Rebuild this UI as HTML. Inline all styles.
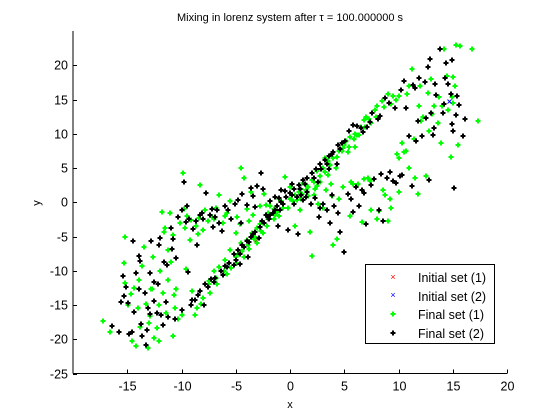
<!DOCTYPE html>
<html><head><meta charset="utf-8"><style>
body{margin:0;background:#fff}
svg{display:block;font-family:"Liberation Sans",sans-serif}
</style></head><body>
<svg id="c" width="560" height="420" viewBox="0 0 560 420">
<rect width="560" height="420" fill="#fff"/>
<text x="290" y="21" font-size="11" text-anchor="middle">Mixing in lorenz system after τ = 100.000000 s</text>
<g id="axes"></g>
<g id="marks"></g>
<text x="290" y="408" font-size="11" text-anchor="middle">x</text>
<text x="0" y="0" font-size="11" text-anchor="middle" transform="translate(40,203) rotate(-90)">y</text>
<g>
<rect x="365.5" y="264.5" width="129" height="79" fill="#fff" stroke="#000"/>
<text x="418" y="282" font-size="12.5">Initial set (1)</text>
<text x="418" y="301" font-size="12.5">Initial set (2)</text>
<text x="418" y="319" font-size="12.5">Final set (1)</text>
<text x="418" y="338" font-size="12.5">Final set (2)</text>
<text x="393" y="280" font-size="9" fill="#f00" text-anchor="middle">×</text>
<text x="393" y="298" font-size="9" fill="#00f" text-anchor="middle">×</text>
<path d="M390.5,314h5M393,311.5v5" stroke="#0f0" stroke-width="2"/>
<path d="M390.5,333h5M393,330.5v5" stroke="#000" stroke-width="2"/>
</g>
</svg>
<script>
const xTicks=[-15,-10,-5,0,5,10,15,20];
const yTicks=[-25,-20,-15,-10,-5,0,5,10,15,20];
const final1=[[-17.2,-17.4],[-16.6,-19],[-15.3,-8.8],[-15.2,-5.1],[-14.9,-15],[-14.6,-20.2],[-14.2,-21],[-14.4,-12.5],[-14,-15.5],[-13.8,-18.2],[-13.5,-6.5],[-13.6,-9.3],[-13.1,-21.3],[-13,-17.6],[-12.9,-16.6],[-12.7,-12.6],[-12.5,-19.8],[-12.6,-8],[-12.1,-15],[-12.1,-20.2],[-12,-10],[-11.7,-13.3],[-11.5,-3.8],[-11.6,-4.3],[-11.4,-16.2],[-11.2,-7],[-11.1,-1.5],[-11,-8.7],[-10.8,-4.8],[-10.6,-15.5],[-10.8,-19.5],[-10.5,-12.6],[-10.3,-17],[-10,-16.5],[-10.1,-3],[-9.9,4.3],[-9.8,-1],[-9.5,-2],[-9.2,-5.5],[-9,-13],[-8.8,-16.5],[-8.5,-4.6],[-8.4,-2.3],[-8.3,2.5],[-8,-4],[-7.8,-1.2],[-7.5,-11.5],[-7,-2.5],[-6.8,-0.8],[-6.5,1],[-6,-2],[-5.5,0.2],[-5,-4.5],[-4.5,5],[-4.2,3.5],[-4,-1],[-3.6,1.5],[-3,-6],[-2.5,-3],[-2,-1.5],[-1.5,-2.5],[-1,-2],[-0.5,3.7],[0,2.2],[0.5,-3.5],[1,0.5],[1.5,1.8],[1.8,-4.3],[2,-7.8],[2.3,2],[2.8,3],[3,-0.8],[3.5,4],[4,-6.2],[4.3,-5.3],[4.5,0.5],[4.8,7.5],[5.2,9],[5.5,-2],[5.8,2.6],[6,8],[6.3,2.7],[6.8,12],[7.2,3.6],[7.5,-1.2],[7.8,13.5],[8,-2.5],[8.5,14.8],[8.8,1],[9,-2.8],[9.2,0.5],[9.5,15.5],[10,6.5],[10,1.5],[10.3,8.7],[10.7,7.5],[11,5],[11.2,19.5],[11.5,3.5],[11.8,1.2],[12,17],[12.3,12.5],[12.5,3.8],[12.7,16],[13,18],[13.3,14],[13.6,11.5],[13.9,8.7],[14.2,22.3],[14.5,18.5],[14.8,6.6],[15,14.5],[15.3,22.9],[15.5,8.3],[15.7,22.8],[16.8,22.4],[17.3,11.8],
[-8,-14],[-7.5,-12],[-7,-10],[-6.5,-9.5],[-6,-8.5],[-5.5,-7],[-5,-8],[-4.5,-6],[-4,-5.5],[-3.5,-4.5],[-3,-3.8],[-2.5,-4.5],[-2,-2.5],[-1.5,-1],[-1,0.5],[0,0.5],[0.5,1],[1,2],[1.5,2.5],[2,3.2],[2.5,4.5],[3,5],[3.5,6],[4,6.5],[4.5,7.5],[5,8.3],[5.5,9.5],[6,10],[6.5,11],[7,12.5],[7.5,11.5],[8,14],[9,15.8],[10,15.5],[11,17],
[-4.8,-7.5],[-4.2,-8],[-3.8,-6.8],[-3.2,-5],[-2.8,-3.2],[-1.8,-0.5],[-0.8,0.2],[0.8,1.5],[1.2,2.8],[2.2,1],[3.2,6.5],[4.2,5],[5.3,7.3],[6.2,9.8],[-6.8,-11],[-5.8,-10.5],[-7.2,-2.2],[-9.6,-9.8],[-12.8,-12.7],[-13.9,-11.4],[-11.8,-1.4],[-3.8,-2.7],[-2.2,-0.4],[2.6,-0.3],[3.8,2.7],[6.6,-2.9],[8.2,-1.3],[9.3,-0.9],
[-15.2,-11.8],[-14.7,-13.4],[-13.3,-14.8],[-12.3,-18.4],[-11.2,-11.3],[-10.7,-13.5],[-9.7,-3.8],[-9.1,-2.6],[-8.7,-3.4],[-7.6,-2.8],[-6.2,-3.1],[-5.8,-1.6],[-4.9,-2.2],[-4.6,-3.2],[-3.4,-1.8],[-2.8,-0.6],[-2.4,1.2],[-1.2,-1.4],[-0.2,-0.8],[0.3,0.2],[0.9,-1.2],[1.7,0.9],[2.5,2.4],[3.3,1.8],[3.9,0.9],[4.9,2.2],[5.6,3],[6.8,3.4],[7.4,3.1],[8.6,1.8],[9.9,7],[10.5,7.4],[11.4,9.3],[12.1,11.9],[12.8,10.4],[13.1,12.9],[14,14],[14.6,13.5],[14.9,15.3],[15.2,17],[15,18.3],[13.7,15.3],[11.9,14],[10.8,15.8],[9.8,14.9],[9.3,14.4],[8.7,13.9],[7.9,12.5],[7.3,12.2],[6.9,11],[6.4,9.8],[5.9,9.2],[5.4,8.1],[4.9,7.9],[4.3,6.6],[3.7,5.5],[3.2,4.4],[2.8,3.9],[2.2,3],[1.7,2.2],[1.1,1.2],[0.6,0.3],[-0.6,-0.9],[-1.4,-1.9],[-2.1,-3.4],[-2.7,-4.2],[-3.3,-5.3],[-3.9,-6.2],[-4.4,-7.1],[-4.9,-8.8],[-5.4,-9.6],[-6.1,-10.1],[-6.7,-11.9],[-7.4,-13.2],[-8.2,-14.9],[-8.6,-15.5]];
const final2=[[-16.4,-18.1],[-15.8,-18.9],[-15.4,-10.7],[-15.3,-13.7],[-15.1,-12.3],[-14.9,-14.7],[-14.6,-18.9],[-14.5,-5.6],[-14.2,-10.4],[-13.9,-12.7],[-13.9,-7.9],[-13.8,-8.6],[-13.7,-17.8],[-13.4,-13.3],[-13.2,-18.7],[-13.1,-15.4],[-13.3,-20.8],[-12.8,-5.6],[-12.5,-11.7],[-12.5,-14.4],[-12.3,-16.2],[-12.1,-6.3],[-12,-5.2],[-11.7,-17.9],[-11.6,-8.7],[-11.4,-14.6],[-11.3,-9.2],[-11,-3.8],[-10.9,-6.8],[-10.6,-17],[-10.5,-8.2],[-10,-15.7],[-10,-1.2],[-9.8,2.9],[-9.6,-2.9],[-9.3,-2.4],[-9,-14.3],[-8.9,-3.9],[-8.6,-6.3],[-8.3,-1.8],[-7.7,1.3],[-7.4,-1.9],[-7.1,-3.6],[-6.7,-1.1],[-6.3,-4.2],[-5.7,-1.2],[-5.1,-0.3],[-4.5,-3],[-4.4,1.2],[-3.6,2.1],[-3.2,-0.7],[-2.7,4.3],[-2.2,-1.8],[-1.4,0.8],[-0.8,1.8],[-0.2,-4.1],[0.7,-4.6],[1.2,0.4],[1.9,-0.2],[2.7,-2.2],[3.4,-1.2],[3.7,-3.1],[4.6,-4.3],[5,-7.2],[5.3,1.2],[5.8,-1.4],[6.4,-0.5],[6.8,1.3],[7,-3.2],[7.5,2.5],[8.2,-1.2],[8.6,-2.7],[8.9,3.5],[9.2,4.4],[9.8,2.8],[10.3,4],[10.7,13.7],[11.2,2.4],[11.5,16.7],[11.8,11.8],[12.2,9.6],[12.4,17.5],[12.8,3.3],[13,13],[13.2,9.8],[13.5,15.6],[13.8,22.3],[14.1,13],[14.4,20.3],[14.6,17.2],[14.9,20.7],[15,10.4],[15.1,2.1],[15.3,12.8],[15.6,14.2],[15.9,9.6],[16.1,12.2],[14.9,11.4],[11.9,18.1],[12.9,20.9],
[-8.8,-14.2],[-8.3,-13],[-7.8,-12],[-7.3,-11.2],[-6.9,-11],[-6.4,-10],[-6,-9.3],[-5.6,-8.8],[-5.2,-7.6],[-4.8,-7],[-4.4,-6.3],[-4,-5.6],[-3.6,-5],[-3.2,-4.3],[-2.8,-3.6],[-2.4,-3],[-2,-2.2],[-1.6,-1.5],[-1.2,-0.6],[-0.8,0.1],[-0.4,0.7],[0,1.3],[0.4,1.9],[0.8,2.5],[1.2,3.2],[1.6,3.6],[2,4.3],[2.4,4.9],[2.8,5.6],[3.2,6.1],[3.6,6.8],[4,7.4],[4.4,8.3],[4.8,8.6],[5.4,10.4],[5.8,11.3],[6.2,11.1],[6.7,10.3],[7.4,11.7],[8.3,12.6],[8.8,15.2],[9.7,13.7],[10.5,17.7],[-5.2,-9.2],[-4.6,-9],[-3.9,-8],[-2.9,-5.2],[-1.9,-2.4],[-0.9,-1.2],[0.6,0.8],[1.6,1.5],[2.6,3],[3.6,4.8],[4.3,5.6],[-6.5,-3],[-8.1,-1.5],[-9.4,-10.2],[-7.9,-15],[-11.9,-16.4],[-14.4,-16],[-12.9,-16.3],[-3,2.3],[0.2,2.7],[-1.1,-3.5],[2.8,-0.9],[4.1,-0.6],[6.1,2.2],
[-15.6,-14.6],[-14.8,-19.3],[-13.6,-19.5],[-12.9,-10.3],[-12.2,-11.9],[-11.2,-16.8],[-10.8,-5.4],[-10.3,-2.2],[-9.5,-0.6],[-8.7,-2.8],[-8,-2.4],[-7.2,-1],[-6.9,-2.1],[-6,-0.6],[-5.4,-2.5],[-4.8,0.4],[-4,-0.4],[-3.4,0.9],[-2.5,2],[-1.8,0.2],[-1,0.6],[-0.5,1.6],[0.4,-0.2],[1,1],[1.5,0.8],[2.3,0.6],[3,-0.3],[3.9,1.1],[4.4,-1.5],[5.6,0.5],[6.6,1.8],[7.7,3.4],[8.4,4.1],[9.5,3.1],[10.1,3.8],[11,9.7],[11.6,9],[12.5,12.3],[13.3,10.9],[14.2,14.3],[14.8,15.8],[15.4,15.5],[14.3,18.1],[13.4,17.3],[12.7,19.8],[11.3,17.1],[10.2,16.4],[9.1,14.5],[8.1,12.1],[7.6,13.1],[7.1,11],[6.5,10.8],[5.1,9],[4.6,7.8],[3.9,7],[3.4,5.6],[2.9,4.8],[2.2,3.6],[1.4,2.6],[0.9,2],[0.2,1.1],[-0.6,-0.2],[-1.4,-1.1],[-1.8,-1.8],[-2.6,-2.8],[-3.4,-4.6],[-3.8,-5.8],[-4.2,-6.6],[-4.6,-7.6],[-5,-8.4],[-5.8,-9.4],[-6.2,-10.6],[-7,-11.7],[-7.6,-12.4],[-8.5,-13.6],[-9.1,-15]];
const initial1=[[-3.1,-5.6]];
const initial2=[[14.7,14.7]];
const L=73,R=507,T=31,B=373.5;
const sx=v=>L+(v+20)/40*(R-L);
const sy=v=>B-(v+25)/50*(B-T);
const NS='http://www.w3.org/2000/svg';
const ax=document.getElementById('axes'),mk=document.getElementById('marks');
function el(t,a,p){const e=document.createElementNS(NS,t);for(const k in a)e.setAttribute(k,a[k]);p.appendChild(e);return e;}
const xl=el('line',{x1:L,y1:B,x2:R,y2:B,stroke:'#000'},ax);


const yl=el('line',{x1:L,y1:T,x2:L,y2:B,stroke:'#000'},ax);


xTicks.forEach(v=>{const x=Math.round(sx(v))+0.5;
const t=el('line',{x1:x,y1:B,x2:x,y2:B-4,stroke:'#000'},ax);


const s=el('text',{x:x,y:B+17,'font-size':12.5,'text-anchor':'middle'},ax);s.textContent=v;

});
yTicks.forEach(v=>{const y=Math.round(sy(v))+0.5;
const t=el('line',{x1:L,y1:y,x2:L+4,y2:y,stroke:'#000'},ax);


const s=el('text',{x:L-5,y:y+4,'font-size':12.5,'text-anchor':'end'},ax);s.textContent=v;

});
function plus(d,c,name){d.forEach(p=>{const x=Math.round(sx(p[0])),y=Math.round(sy(p[1]));
const e=el('path',{d:`M${x-2.5},${y}h5M${x},${y-2.5}v5`,stroke:c,'stroke-width':2},mk);

});}
function cross(d,c,name){d.forEach(p=>{const x=sx(p[0]),y=sy(p[1]);
const e=el('path',{d:`M${x-2},${y-2}l4,4M${x-2},${y+2}l4,-4`,stroke:c,'stroke-width':1},mk);

});}
cross(initial1,'#f00','initial-set-1-point');
plus(final1,'#0f0','final-set-1-point');
plus(final2,'#000','final-set-2-point');
cross(initial2,'#00f','initial-set-2-point');
</script>
</body></html>
